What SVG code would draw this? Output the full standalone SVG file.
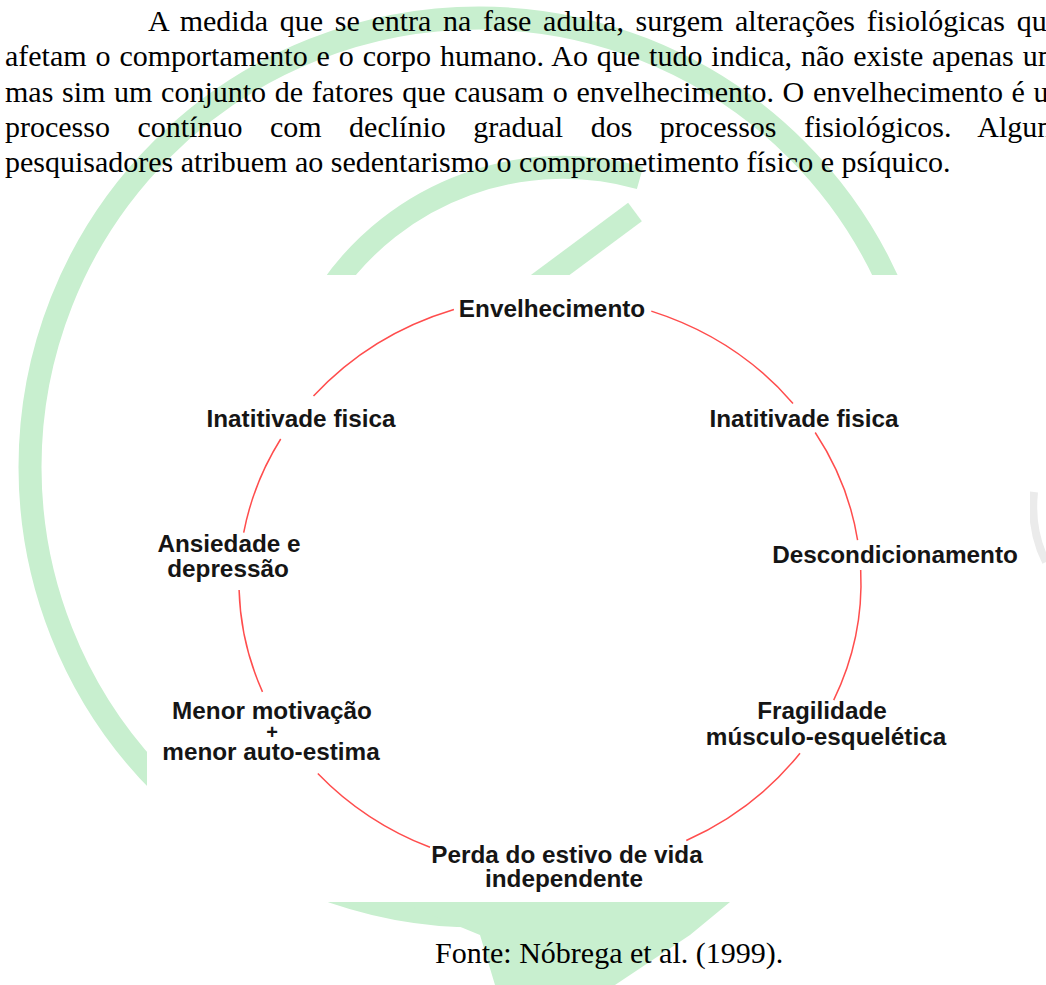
<svg xmlns="http://www.w3.org/2000/svg" width="1046" height="985" viewBox="0 0 1046 985">
<style>
.body{font-family:"Liberation Serif","Times New Roman",serif;font-size:30px;fill:#000}
.lbl{font-family:"Liberation Sans",Arial,sans-serif;font-size:24.3px;font-weight:bold;fill:#151515;text-anchor:middle}
.arc{fill:none;stroke:#ff4d4d;stroke-width:1.5}
.wm{fill:none;stroke:#c8efcf;stroke-width:23}
</style>
<rect width="1046" height="985" fill="#ffffff"/>
<g id="watermark">
  <circle class="wm" cx="479" cy="467" r="449"/>
  <path class="wm" d="M 330 290 A 283 283 0 0 1 640 178" stroke-width="21"/>
  <line class="wm" x1="530" y1="290" x2="635" y2="212" stroke-width="19"/>
  <polygon points="400,902 730,902 690,935 615,985 495,985 480,935" fill="#c8efcf"/>
  <path d="M 1034 492 Q 1030 530 1046 562" fill="none" stroke="#ebebeb" stroke-width="8"/>
</g>
<g id="text-body">
  <text class="body" x="148" y="31" word-spacing="4.2">A medida que se entra na fase adulta, surgem alterações fisiológicas que</text>
  <text class="body" x="5" y="66.3" word-spacing="1.4">afetam o comportamento e o corpo humano. Ao que tudo indica, não existe apenas um</text>
  <text class="body" x="5" y="101.5" word-spacing="1.2">mas sim um conjunto de fatores que causam o envelhecimento. O envelhecimento é um</text>
  <text class="body" x="5" y="136.8" word-spacing="20">processo contínuo com declínio gradual dos processos fisiológicos. Alguns</text>
  <text class="body" x="5" y="172">pesquisadores atribuem ao sedentarismo o comprometimento físico e psíquico.</text>
</g>
<rect id="diagram-bg" x="147" y="275" width="883" height="627" fill="#ffffff"/>
<g id="connectors">
  <path class="arc" d="M 313.5 396.1 A 311 287 0 0 1 453.9 309.5"/>
  <path class="arc" d="M 651.3 311.1 A 311 287 0 0 1 793.0 403.4"/>
  <path class="arc" d="M 243.7 532.7 A 311 287 0 0 1 280.7 439.0"/>
  <path class="arc" d="M 815.2 432.5 A 311 287 0 0 1 857.6 540.1"/>
  <path class="arc" d="M 262.5 691.9 A 311 287 0 0 1 239.1 590.0"/>
  <path class="arc" d="M 860.7 570.0 A 311 287 0 0 1 833.7 700.1"/>
  <path class="arc" d="M 430.0 847.3 A 311 287 0 0 1 317.8 773.4"/>
  <path class="arc" d="M 800.0 753.2 A 311 287 0 0 1 686.3 840.5"/>
</g>
<g id="node-envelhecimento"><text class="lbl" x="552" y="317">Envelhecimento</text></g>
<g id="node-inatividade-esq"><text class="lbl" x="301" y="427">Inatitivade fisica</text></g>
<g id="node-inatividade-dir"><text class="lbl" x="804" y="427">Inatitivade fisica</text></g>
<g id="node-ansiedade"><text class="lbl" x="229" y="552">Ansiedade e</text><text class="lbl" x="228" y="577">depressão</text></g>
<g id="node-descondicionamento"><text class="lbl" x="895" y="563">Descondicionamento</text></g>
<g id="node-motivacao"><text class="lbl" x="272" y="719">Menor motivação</text><text class="lbl" x="272" y="739" style="font-size:20px">+</text><text class="lbl" x="271" y="760">menor auto-estima</text></g>
<g id="node-fragilidade"><text class="lbl" x="822" y="719">Fragilidade</text><text class="lbl" x="826" y="745">músculo-esquelética</text></g>
<g id="node-perda"><text class="lbl" x="567" y="863">Perda do estivo de vida</text><text class="lbl" x="564" y="887">independente</text></g>
<text class="body" x="435" y="963">Fonte: Nóbrega et al. (1999).</text>
</svg>
